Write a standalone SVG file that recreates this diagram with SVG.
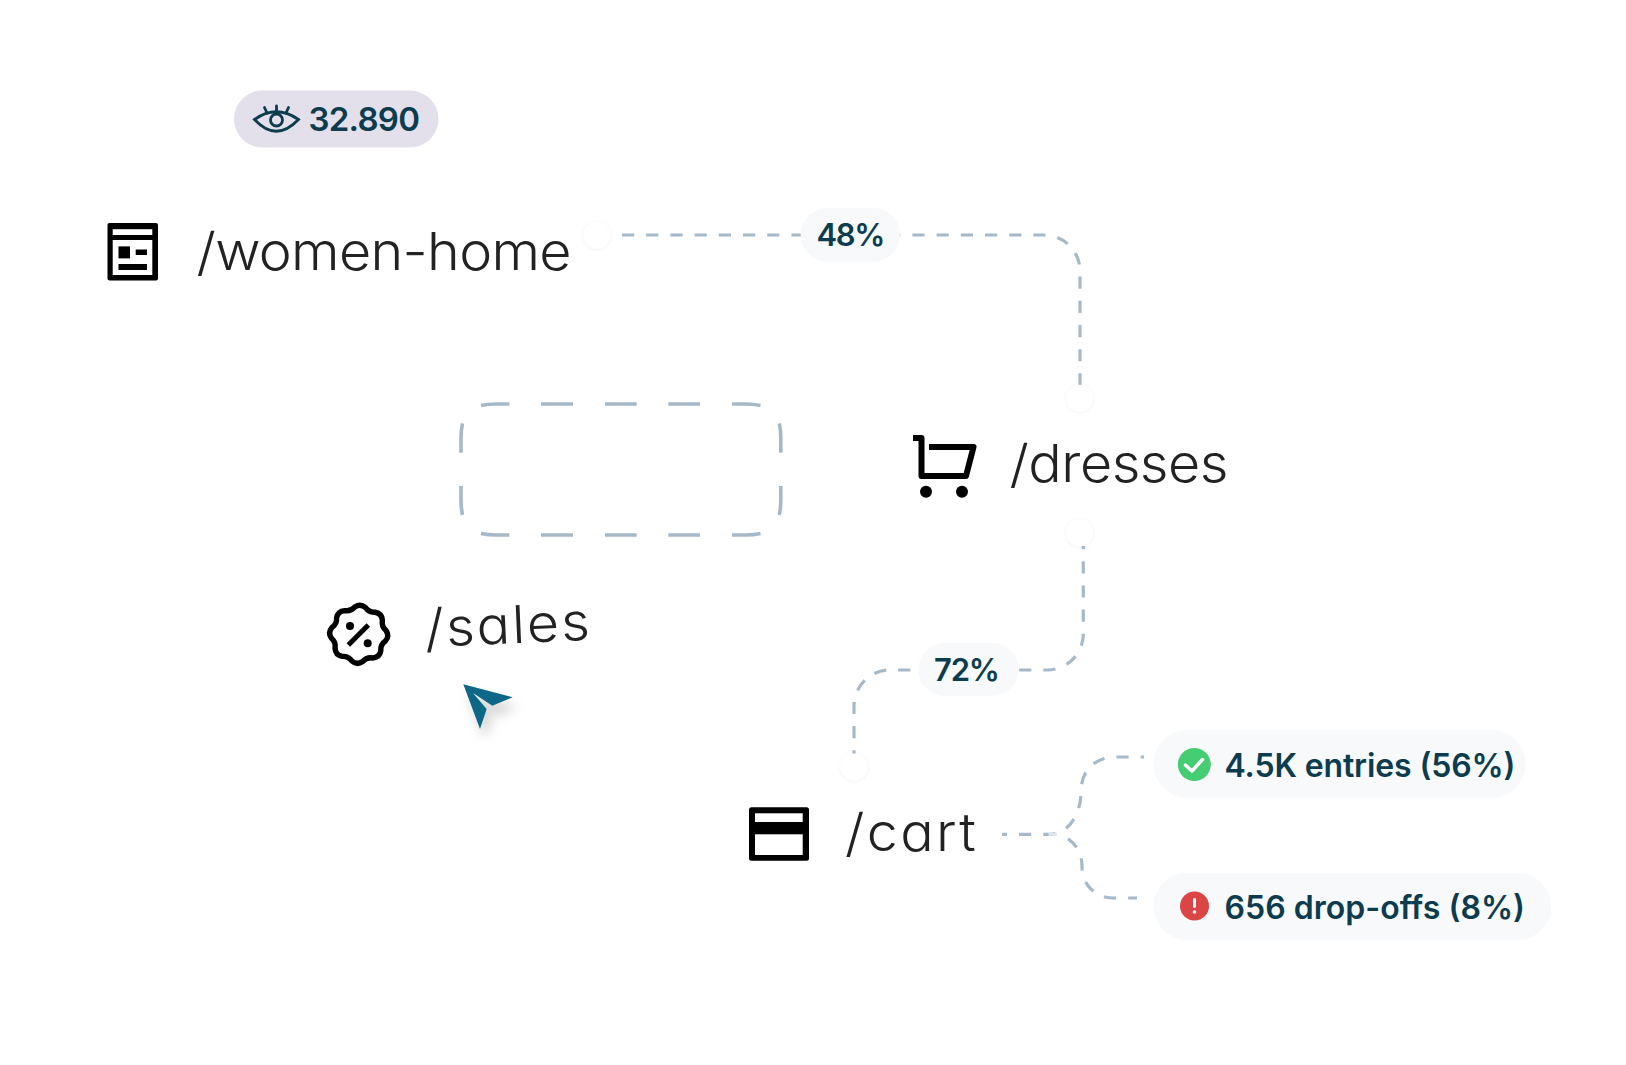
<svg xmlns="http://www.w3.org/2000/svg" width="1626" height="1065" viewBox="0 0 1626 1065">
<defs>
<style>
.route{font-family:"Inter","Liberation Sans",sans-serif;font-weight:300;font-size:52px;fill:#222222;font-feature-settings:"cv11" 1;font-optical-sizing:none;font-variation-settings:"opsz" 14;}
.stat{font-family:"Inter","Liberation Sans",sans-serif;font-weight:600;fill:#0c3c4e;font-optical-sizing:none;font-variation-settings:"opsz" 14;}
.conn{fill:none;stroke:#a6b9c9;stroke-width:3.2;stroke-dasharray:12.2 12;}
.pill{fill:#f7f9fb;}
.dot{fill:#ffffff;filter:url(#dotShadow);}
.ink{fill:#000000;}
</style>
<filter id="cursorShadow" x="-50%" y="-50%" width="220%" height="220%">
<feDropShadow dx="5" dy="10" stdDeviation="6" flood-color="#000000" flood-opacity="0.18"/>
</filter>
<filter id="dotShadow" x="-30%" y="-30%" width="160%" height="160%">
<feDropShadow dx="0" dy="0.5" stdDeviation="1.5" flood-color="#000000" flood-opacity="0.08"/>
</filter>
</defs>
<rect width="1626" height="1065" fill="#ffffff"/>
<g id="connectors">
<path class="conn" d="M622,235 H1044 A36,36 0 0 1 1080,271 V420"/>
<path class="conn" stroke-dashoffset="9" d="M1083.3,546 V634 A36,36 0 0 1 1047.3,670 H890 A36,36 0 0 0 854,706 V754"/>
<path class="conn" stroke-dashoffset="7.2" d="M1002,834.3 H1050 C1068,834 1081,815 1081,792 C1081,770 1095,757 1116,757 H1144"/>
<path class="conn" stroke-dashoffset="17.2" d="M1062,835 C1075,842 1082,852 1082,866 C1082,885 1095,898 1114,898 H1137"/>
<path d="M1048.5,834.3 H1057" fill="none" stroke="#dfe6ec" stroke-width="3"/>
</g>
<g id="placeholder">
<path fill="none" stroke="#a6b9c9" stroke-width="3.6" d="M481,405.5 Q488,404 496,404 H509.3 M541,404 H573 M605,404 H636.7 M668.3,404 H700 M732,404 H746 Q754,404 760.5,405.5 M481,533.5 Q488,535 496,535 H509.3 M541,535 H573 M605,535 H636.7 M668.3,535 H700 M732,535 H746 Q754,535 760.5,533.5 M462.5,423.3 Q461,430 461,438 V452.7 M461,486 V500 Q461,508 462.5,515 M779.3,423.3 Q780.8,430 780.8,438 V452.7 M780.8,486 V500 Q780.8,508 779.3,515"/>
</g>
<g id="views-badge">
<rect x="234" y="90.5" width="204.5" height="57" rx="28.5" fill="#e3e0ec"/>
<g fill="none" stroke="#0c3c4e" stroke-width="2.8" stroke-linecap="round">
<path d="M254.5,119.5 Q276,104 298.5,119.5 Q276,143 254.5,119.5 Z"/>
<circle cx="276.5" cy="120" r="6"/>
<path d="M276.5,106 V111 M264.5,107.5 L267,113 M288.5,107.5 L286,113"/>
</g>
<text class="stat" x="308.5" y="131" font-size="33" font-weight="500" textLength="111.5" lengthAdjust="spacing">32.890</text>
</g>
<g id="node-women-home">
<rect class="ink" x="107.5" y="223" width="50.5" height="57.5" rx="2"/>
<rect x="112.7" y="229.2" width="39.6" height="5.8" fill="#fff"/>
<rect x="112.7" y="240" width="39.6" height="35" fill="#fff"/>
<rect class="ink" x="118.5" y="246.4" width="11.5" height="12"/>
<rect class="ink" x="135.7" y="249.5" width="11.3" height="5.5"/>
<rect class="ink" x="118.5" y="264" width="28.5" height="6"/>
<text class="route" transform="translate(196.5 269.5) scale(1.07 1)" textLength="350.5" lengthAdjust="spacing">/women-home</text>
<circle class="dot" cx="597" cy="235.3" r="13.5"/>
</g>
<g id="node-dresses">
<circle class="dot" cx="1079.7" cy="398.3" r="13.5"/>
<path d="M916,438 H921.5 V476 H966 L973.5,447 H932" fill="none" stroke="#000" stroke-width="6" stroke-linejoin="round" stroke-linecap="square"/>
<circle class="ink" cx="926" cy="491.7" r="6"/>
<circle class="ink" cx="962" cy="491.7" r="6"/>
<text class="route" transform="translate(1009.5 482) scale(1.07 1)" textLength="204.7" lengthAdjust="spacing">/dresses</text>
<circle class="dot" cx="1079.7" cy="532.7" r="13.5"/>
</g>
<g id="node-sales">
<g transform="translate(358.7 634.3) rotate(3) scale(1.04)">
<path fill="none" stroke="#000" stroke-width="5.2" stroke-linejoin="round" d="M25.99,-5.17 Q30,0 25.99,5.17 Q21.25,8.8 22.03,14.72 Q21.21,21.21 14.72,22.03 Q8.8,21.25 5.17,25.99 Q0,30 -5.17,25.99 Q-8.8,21.25 -14.72,22.03 Q-21.21,21.21 -22.03,14.72 Q-21.25,8.8 -25.99,5.17 Q-30,0 -25.99,-5.17 Q-21.25,-8.8 -22.03,-14.72 Q-21.21,-21.21 -14.72,-22.03 Q-8.8,-21.25 -5.17,-25.99 Q0,-30 5.17,-25.99 Q8.8,-21.25 14.72,-22.03 Q21.21,-21.21 22.03,-14.72 Q21.25,-8.8 25.99,-5.17 Z"/>
</g>
<path d="M368.3,625 L348.3,645" stroke="#000" stroke-width="5"/>
<circle class="ink" cx="350" cy="626" r="4"/>
<circle class="ink" cx="367.7" cy="643.3" r="4"/>
<text class="route" transform="translate(425.5 647) rotate(-2.5) scale(1.07 1)" textLength="154.2" lengthAdjust="spacing">/sales</text>
</g>
<g id="cursor">
<path filter="url(#cursorShadow)" fill="#0f6888" d="M463.3,684.3 L512.7,697.3 L492.3,705.7 L473,693 L486.7,709 L480,729 Z"/>
</g>
<g id="edge-48">
<rect class="pill" x="800.7" y="208" width="99.3" height="53.7" rx="26.8"/>
<text class="stat" x="816.5" y="246" font-size="31" textLength="69" lengthAdjust="spacing">48%</text>
</g>
<g id="edge-72">
<rect class="pill" x="918.3" y="642.7" width="100" height="53.3" rx="26.6"/>
<text class="stat" x="934" y="681" font-size="31" textLength="66" lengthAdjust="spacing">72%</text>
</g>
<g id="node-cart">
<circle class="dot" cx="854" cy="767" r="13.5"/>
<rect class="ink" x="749" y="807.3" width="60" height="53.4" rx="2.5"/>
<rect x="755" y="813.3" width="47.7" height="8.7" fill="#fff"/>
<rect x="755" y="834.3" width="47.7" height="20.7" fill="#fff"/>
<text class="route" transform="translate(845 851) scale(1.07 1)" textLength="122.4" lengthAdjust="spacing">/cart</text>
</g>
<g id="entries-badge">
<rect class="pill" x="1153.6" y="729.7" width="372" height="68.3" rx="34"/>
<circle cx="1194.3" cy="764.5" r="16.5" fill="#45cd74"/>
<path d="M1185.5,765.2 L1192,771 L1202.5,759.5" fill="none" stroke="#fff" stroke-width="3.5" stroke-linecap="round" stroke-linejoin="round"/>
<text class="stat" x="1224.5" y="777" font-size="32" font-weight="500" textLength="291" lengthAdjust="spacing">4.5K entries (56%)</text>
</g>
<g id="dropoffs-badge">
<rect class="pill" x="1153.6" y="872.7" width="397.5" height="67.3" rx="33.6"/>
<circle cx="1194.5" cy="906" r="14.5" fill="#dc4545"/>
<path d="M1194.5,899.5 V906.5" fill="none" stroke="#fff" stroke-width="3" stroke-linecap="round"/>
<circle cx="1194.5" cy="912" r="1.8" fill="#fff"/>
<text class="stat" x="1224.5" y="919" font-size="32" font-weight="500" textLength="300.5" lengthAdjust="spacing">656 drop-offs (8%)</text>
</g>
</svg>
